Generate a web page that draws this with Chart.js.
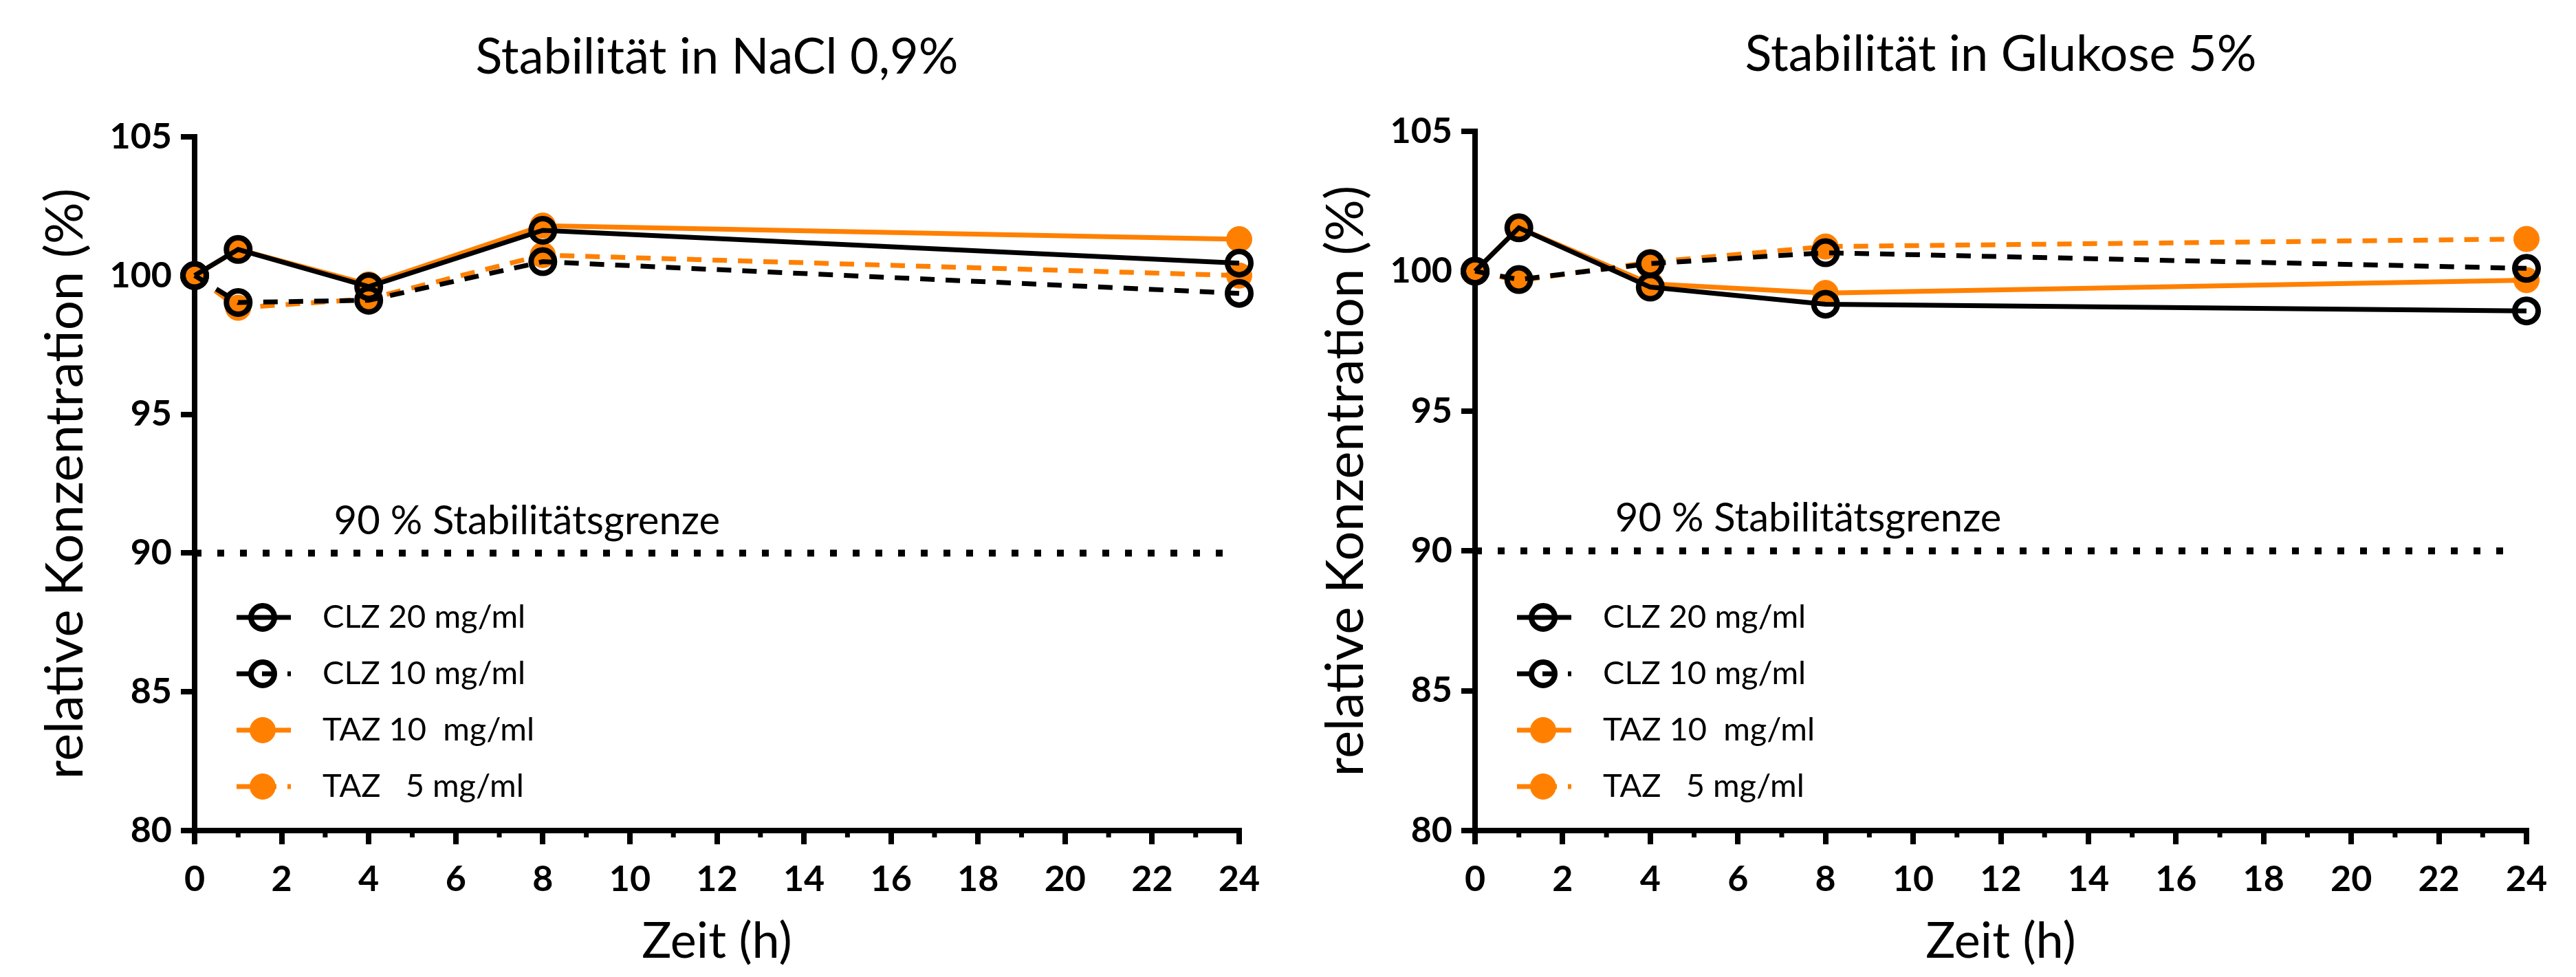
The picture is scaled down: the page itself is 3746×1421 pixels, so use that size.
<!DOCTYPE html>
<html>
<head>
<meta charset="utf-8">
<title>Stabilität CLZ / TAZ</title>
<script src="https://cdn.jsdelivr.net/npm/chart.js@4.4.1/dist/chart.umd.min.js"></script>
<style>
  body { margin: 0; background: #fff; }
  #wrap { position: relative; width: 3746px; height: 1421px; }
  canvas { position: absolute; top: 0; }
  #nacl { left: 0; }
  #glukose { left: 1873px; }
</style>
</head>
<body>
<div id="wrap">
  <canvas id="nacl" width="1873" height="1421"></canvas>
  <canvas id="glukose" width="1873" height="1421"></canvas>
</div>
<script>
"use strict";

// Messzeitpunkte (h)
var hours = [0, 1, 4, 8, 24];
var seriesLabels = ["CLZ 20 mg/ml", "CLZ 10 mg/ml", "TAZ 10  mg/ml", "TAZ   5 mg/ml"];

// NaCl 0,9%
var naclClz20 = [100, 100.94, 99.6, 101.63, 100.45];
var naclClz10 = [100, 99.03, 99.11, 100.5, 99.36];
var naclTaz10 = [100, 100.94, 99.68, 101.8, 101.31];
var naclTaz5 = [100, 98.84, 99.16, 100.74, 100.0];

// Glukose 5%
var glucClz20 = [100, 101.55, 99.43, 98.82, 98.58];
var glucClz10 = [100, 99.7, 100.27, 100.66, 100.1];
var glucTaz10 = [100, 101.55, 99.55, 99.22, 99.68];
var glucTaz5 = [100, 99.66, 100.32, 100.88, 101.15];

// Achsen
var yTicks = [80, 85, 90, 95, 100, 105];
var xTicks = [0, 2, 4, 6, 8, 10, 12, 14, 16, 18, 20, 22, 24];

// 90 % Grenze
var limitValue = 90;
var limitHours = [0, 23.7];
var limitText = "90 % Stabilitätsgrenze";
var limitTextAt = [3.2, 91.15];

var ORANGE = "#ff8000";
var W = 1873, H = 1421;

function points(ys) {
  var out = [];
  for (var i = 0; i < hours.length; i++) out.push({ x: hours[i], y: ys[i] });
  return out;
}

function seriesSets(clz20, clz10, taz10, taz5) {
  var ring = { pointBackgroundColor: "rgba(0,0,0,0)", pointBorderColor: "#000", pointBorderWidth: 8, pointRadius: 17 };
  var dot = { pointBackgroundColor: ORANGE, pointBorderColor: ORANGE, pointBorderWidth: 1, pointRadius: 18.5 };
  var sets = [
    Object.assign({ label: seriesLabels[0], data: points(clz20), borderColor: "#000", borderWidth: 7, borderDash: [] }, ring),
    Object.assign({ label: seriesLabels[1], data: points(clz10), borderColor: "#000", borderWidth: 7, borderDash: [21, 16] }, ring),
    Object.assign({ label: seriesLabels[2], data: points(taz10), borderColor: ORANGE, borderWidth: 7, borderDash: [] }, dot),
    Object.assign({ label: seriesLabels[3], data: points(taz5), borderColor: ORANGE, borderWidth: 7, borderDash: [21, 16] }, dot)
  ];
  // dotted limit line
  sets.push({
    label: "limit",
    data: [{ x: limitHours[0], y: limitValue }, { x: limitHours[1], y: limitValue }],
    borderColor: "#000", borderWidth: 10, borderDash: [10, 23], pointRadius: 0
  });
  sets.forEach(function (d) { d.clip = false; d.tension = 0; d.fill = false; });
  return sets;
}

// title, minor ticks, limit text and the legend
var extrasPlugin = {
  id: "extras",
  afterDatasetsDraw: function (chart, args, opts) {
    var ctx = chart.ctx, area = chart.chartArea;
    var sx = chart.scales.x, sy = chart.scales.y;
    ctx.save();

    // minor ticks on the x axis
    ctx.strokeStyle = "#000";
    ctx.lineWidth = 7;
    for (var h = 1; h < 24; h += 2) {
      var px = sx.getPixelForValue(h);
      ctx.beginPath();
      ctx.moveTo(px, area.bottom);
      ctx.lineTo(px, area.bottom + 10);
      ctx.stroke();
    }

    ctx.fillStyle = "#000";
    ctx.textBaseline = "middle";

    ctx.font = "72px Lato";
    ctx.textAlign = "center";
    ctx.fillText(opts.title, (area.left + area.right) / 2, opts.titleY);

    ctx.font = "58px Lato";
    ctx.textAlign = "left";
    ctx.fillText(limitText, sx.getPixelForValue(limitTextAt[0]), sy.getPixelForValue(limitTextAt[1]));

    // legend, built from the dataset styles
    var sets = chart.data.datasets;
    for (var i = 0; i < seriesLabels.length; i++) {
      var ds = sets[i];
      var ry = area.bottom - 310 + i * 82;
      var cx = area.left + 99;
      ctx.lineWidth = ds.borderWidth;
      ctx.strokeStyle = ds.borderColor;
      ctx.setLineDash(ds.borderDash);
      ctx.beginPath();
      ctx.moveTo(area.left + 61, ry);
      ctx.lineTo(area.left + 140, ry);
      ctx.stroke();
      ctx.setLineDash([]);
      ctx.beginPath();
      ctx.arc(cx, ry, ds.pointRadius, 0, 2 * Math.PI);
      ctx.fillStyle = ds.pointBackgroundColor;
      ctx.fill();
      ctx.lineWidth = ds.pointBorderWidth;
      ctx.strokeStyle = ds.pointBorderColor;
      ctx.stroke();
      ctx.fillStyle = "#000";
      ctx.font = "47px Lato";
      ctx.fillText(ds.label, area.left + 186, ry);
    }
    ctx.restore();
  }
};

function makeChart(id, title, titleY, area, sets) {
  var ctx = document.getElementById(id).getContext("2d");
  return new Chart(ctx, {
    type: "line",
    data: { datasets: sets },
    plugins: [extrasPlugin],
    options: {
      responsive: false,
      animation: false,
      events: [],
      devicePixelRatio: 1,
      layout: { padding: { top: area.top, right: W - area.right, bottom: 0, left: 0 } },
      plugins: {
        legend: { display: false },
        tooltip: { enabled: false },
        extras: { title: title, titleY: titleY }
      },
      scales: {
        x: {
          type: "linear",
          min: xTicks[0],
          max: xTicks[xTicks.length - 1],
          afterFit: function (s) { s.height = H - area.bottom; },
          grid: { drawOnChartArea: false, drawTicks: true, tickLength: 20, tickWidth: 8, tickColor: "#000", lineWidth: 8 },
          border: { display: true, color: "#000", width: 8 },
          ticks: {
            stepSize: xTicks[1] - xTicks[0],
            color: "#000",
            padding: 20,
            maxRotation: 0,
            font: { family: "Lato", size: 52, weight: "bold" }
          },
          title: {
            display: true,
            text: "Zeit (h)",
            color: "#000",
            font: { family: "Lato", size: 72 },
            padding: { top: 0, bottom: 8 }
          }
        },
        y: {
          min: yTicks[0],
          max: yTicks[yTicks.length - 1],
          afterFit: function (s) { s.width = area.left; },
          grid: { drawOnChartArea: false, drawTicks: true, tickLength: 20, tickWidth: 8, tickColor: "#000", lineWidth: 8 },
          border: { display: true, color: "#000", width: 8 },
          ticks: {
            stepSize: yTicks[1] - yTicks[0],
            color: "#000",
            padding: 13,
            font: { family: "Lato", size: 52, weight: "bold" }
          },
          title: {
            display: true,
            text: "relative Konzentration (%)",
            color: "#000",
            font: { family: "Lato", size: 76 },
            padding: { top: area.left - 188 - 45.6, bottom: 0 }
          }
        }
      }
    }
  });
}

makeChart("nacl", "Stabilität in NaCl 0,9%", 84,
  { left: 283, top: 199, right: 1802, bottom: 1208 },
  seriesSets(naclClz20, naclClz10, naclTaz10, naclTaz5));

makeChart("glukose", "Stabilität in Glukose 5%", 80,
  { left: 272, top: 191, right: 1801, bottom: 1208 },
  seriesSets(glucClz20, glucClz10, glucTaz10, glucTaz5));
</script>
</body>
</html>
